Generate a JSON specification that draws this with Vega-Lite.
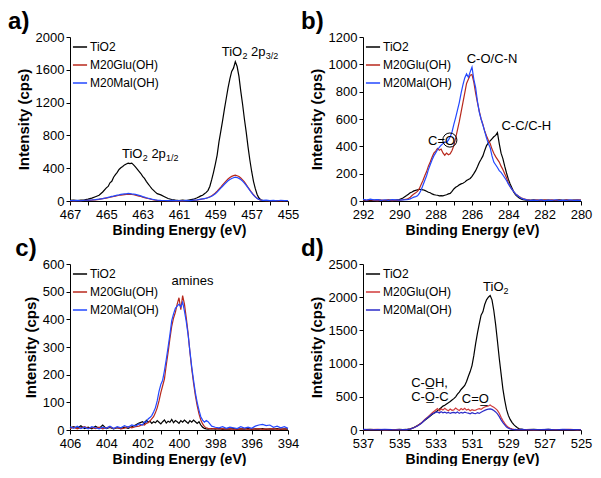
{
"$schema": "https://vega.github.io/schema/vega-lite/v6.json",
"padding": {"left": 8, "top": 10, "right": 4, "bottom": 0},
"config": {
 "font": "Liberation Sans",
 "view": {"stroke": null},
 "axis": {"grid": false, "domainColor": "#000", "tickColor": "#000", "labelColor": "#000", "titleColor": "#000", "labelFontSize": 13, "titleFontSize": 14, "titleFontWeight": "bold", "tickSize": 4, "labelPadding": 2, "labelOverlap": false, "labelFlush": false, "format": "d", "tickCount": 30},
 "axisX": {"titlePadding": 2, "labelPadding": 3},
 "axisY": {"titlePadding": 4, "titleFontSize": 15},
 "legend": {"orient": "top-left", "offset": 2, "padding": 0, "labelFontSize": 12, "symbolType": "stroke", "symbolSize": 200, "symbolStrokeWidth": 1.5, "rowPadding": 4, "labelOffset": 2, "labelColor": "#000"},
 "title": {"fontSize": 24, "fontWeight": "bold", "anchor": "start", "frame": "bounds", "color": "#000", "offset": -3},
 "text": {"font": "Liberation Sans", "fontSize": 13, "color": "#000"}
},
"datasets": {
 "a": [
  {"e":467.0,"T":8,"G":3,"M":6},{"e":466.8,"T":10,"G":2,"M":4},{"e":466.6,"T":6,"G":5,"M":8},{"e":466.4,"T":12,"G":3,"M":3},{"e":466.2,"T":15,"G":6,"M":9},{"e":466.0,"T":22,"G":8,"M":10},{"e":465.8,"T":35,"G":10,"M":12},{"e":465.6,"T":52,"G":14,"M":16},{"e":465.4,"T":70,"G":20,"M":24},{"e":465.2,"T":110,"G":28,"M":30},{"e":465.0,"T":160,"G":36,"M":40},{"e":464.9,"T":178,"G":40,"M":45},{"e":464.8,"T":222,"G":46,"M":50},{"e":464.7,"T":240,"G":50,"M":56},{"e":464.6,"T":290,"G":56,"M":60},{"e":464.5,"T":322,"G":60,"M":66},{"e":464.4,"T":350,"G":64,"M":72},{"e":464.3,"T":385,"G":70,"M":74},{"e":464.2,"T":405,"G":72,"M":80},{"e":464.1,"T":420,"G":75,"M":84},{"e":464.0,"T":440,"G":78,"M":86},{"e":463.9,"T":452,"G":80,"M":88},{"e":463.8,"T":462,"G":82,"M":92},{"e":463.7,"T":455,"G":80,"M":90},{"e":463.6,"T":462,"G":79,"M":86},{"e":463.5,"T":440,"G":76,"M":84},{"e":463.4,"T":415,"G":72,"M":80},{"e":463.3,"T":390,"G":66,"M":74},{"e":463.2,"T":362,"G":60,"M":68},{"e":463.1,"T":335,"G":55,"M":62},{"e":463.0,"T":300,"G":48,"M":54},{"e":462.9,"T":275,"G":42,"M":48},{"e":462.8,"T":240,"G":36,"M":40},{"e":462.7,"T":210,"G":30,"M":34},{"e":462.6,"T":180,"G":24,"M":28},{"e":462.5,"T":150,"G":18,"M":22},{"e":462.4,"T":130,"G":14,"M":18},{"e":462.3,"T":108,"G":10,"M":14},{"e":462.2,"T":90,"G":8,"M":11},{"e":462.0,"T":75,"G":5,"M":8},{"e":461.8,"T":52,"G":4,"M":6},{"e":461.6,"T":30,"G":3,"M":5},{"e":461.4,"T":18,"G":4,"M":7},{"e":461.2,"T":10,"G":2,"M":4},{"e":461.0,"T":6,"G":3,"M":6},{"e":460.8,"T":12,"G":2,"M":3},{"e":460.6,"T":5,"G":4,"M":8},{"e":460.4,"T":14,"G":6,"M":5},{"e":460.2,"T":22,"G":8,"M":10},{"e":460.0,"T":40,"G":12,"M":14},{"e":459.9,"T":50,"G":16,"M":18},{"e":459.8,"T":62,"G":20,"M":22},{"e":459.7,"T":70,"G":24,"M":26},{"e":459.6,"T":88,"G":28,"M":30},{"e":459.5,"T":105,"G":34,"M":34},{"e":459.4,"T":130,"G":42,"M":40},{"e":459.3,"T":180,"G":52,"M":48},{"e":459.2,"T":260,"G":64,"M":58},{"e":459.1,"T":350,"G":80,"M":72},{"e":459.0,"T":450,"G":98,"M":88},{"e":458.9,"T":560,"G":120,"M":108},{"e":458.8,"T":720,"G":146,"M":132},{"e":458.7,"T":850,"G":170,"M":156},{"e":458.6,"T":980,"G":196,"M":180},{"e":458.5,"T":1120,"G":220,"M":204},{"e":458.4,"T":1250,"G":245,"M":226},{"e":458.3,"T":1380,"G":268,"M":246},{"e":458.2,"T":1490,"G":286,"M":262},{"e":458.1,"T":1580,"G":300,"M":274},{"e":458.0,"T":1620,"G":310,"M":284},{"e":457.9,"T":1700,"G":315,"M":290},{"e":457.8,"T":1640,"G":308,"M":286},{"e":457.7,"T":1520,"G":298,"M":276},{"e":457.6,"T":1340,"G":280,"M":262},{"e":457.5,"T":1180,"G":258,"M":242},{"e":457.4,"T":1000,"G":232,"M":218},{"e":457.3,"T":840,"G":200,"M":190},{"e":457.2,"T":660,"G":168,"M":160},{"e":457.1,"T":500,"G":136,"M":128},{"e":457.0,"T":360,"G":104,"M":100},{"e":456.9,"T":240,"G":76,"M":72},{"e":456.8,"T":150,"G":52,"M":50},{"e":456.7,"T":80,"G":32,"M":32},{"e":456.6,"T":36,"G":18,"M":20},{"e":456.5,"T":15,"G":10,"M":12},{"e":456.4,"T":8,"G":6,"M":8},{"e":456.2,"T":5,"G":4,"M":10},{"e":456.0,"T":3,"G":6,"M":4},{"e":455.8,"T":6,"G":3,"M":8},{"e":455.6,"T":4,"G":5,"M":3},{"e":455.4,"T":2,"G":2,"M":9},{"e":455.2,"T":5,"G":4,"M":5},{"e":455.0,"T":3,"G":3,"M":6}
 ],
 "b": [
  {"e":292.0,"T":5,"G":8,"M":12},{"e":291.8,"T":3,"G":4,"M":6},{"e":291.6,"T":6,"G":10,"M":14},{"e":291.4,"T":4,"G":5,"M":8},{"e":291.2,"T":8,"G":3,"M":10},{"e":291.0,"T":5,"G":6,"M":4},{"e":290.8,"T":3,"G":4,"M":9},{"e":290.6,"T":7,"G":8,"M":5},{"e":290.4,"T":4,"G":3,"M":10},{"e":290.2,"T":6,"G":6,"M":8},{"e":290.0,"T":10,"G":5,"M":6},{"e":289.8,"T":22,"G":9,"M":8},{"e":289.6,"T":40,"G":14,"M":10},{"e":289.5,"T":50,"G":18,"M":12},{"e":289.4,"T":60,"G":28,"M":16},{"e":289.3,"T":66,"G":40,"M":22},{"e":289.2,"T":74,"G":52,"M":28},{"e":289.1,"T":78,"G":60,"M":32},{"e":289.0,"T":82,"G":70,"M":38},{"e":288.9,"T":85,"G":90,"M":55},{"e":288.8,"T":84,"G":120,"M":80},{"e":288.7,"T":82,"G":150,"M":115},{"e":288.6,"T":78,"G":185,"M":150},{"e":288.5,"T":72,"G":215,"M":185},{"e":288.4,"T":64,"G":255,"M":230},{"e":288.3,"T":60,"G":285,"M":265},{"e":288.2,"T":52,"G":320,"M":300},{"e":288.1,"T":47,"G":350,"M":330},{"e":288.0,"T":44,"G":365,"M":352},{"e":287.9,"T":42,"G":385,"M":375},{"e":287.8,"T":38,"G":372,"M":392},{"e":287.7,"T":40,"G":380,"M":408},{"e":287.6,"T":38,"G":352,"M":420},{"e":287.5,"T":42,"G":335,"M":432},{"e":287.4,"T":46,"G":350,"M":428},{"e":287.3,"T":52,"G":338,"M":445},{"e":287.2,"T":56,"G":345,"M":470},{"e":287.1,"T":70,"G":370,"M":505},{"e":287.0,"T":88,"G":405,"M":560},{"e":286.9,"T":100,"G":460,"M":610},{"e":286.8,"T":108,"G":520,"M":665},{"e":286.7,"T":118,"G":580,"M":720},{"e":286.6,"T":125,"G":650,"M":790},{"e":286.5,"T":130,"G":720,"M":850},{"e":286.4,"T":138,"G":790,"M":900},{"e":286.3,"T":150,"G":860,"M":930},{"e":286.2,"T":158,"G":890,"M":905},{"e":286.1,"T":165,"G":920,"M":945},{"e":286.0,"T":180,"G":925,"M":980},{"e":285.9,"T":200,"G":870,"M":890},{"e":285.8,"T":222,"G":790,"M":830},{"e":285.7,"T":250,"G":720,"M":730},{"e":285.6,"T":282,"G":658,"M":650},{"e":285.5,"T":305,"G":600,"M":600},{"e":285.4,"T":330,"G":560,"M":555},{"e":285.3,"T":370,"G":510,"M":510},{"e":285.2,"T":405,"G":475,"M":460},{"e":285.1,"T":425,"G":445,"M":420},{"e":285.0,"T":440,"G":420,"M":390},{"e":284.9,"T":455,"G":380,"M":330},{"e":284.8,"T":470,"G":350,"M":285},{"e":284.7,"T":480,"G":325,"M":265},{"e":284.6,"T":500,"G":305,"M":245},{"e":284.5,"T":420,"G":285,"M":222},{"e":284.4,"T":350,"G":255,"M":210},{"e":284.3,"T":310,"G":230,"M":190},{"e":284.2,"T":255,"G":200,"M":170},{"e":284.1,"T":205,"G":170,"M":150},{"e":284.0,"T":160,"G":130,"M":125},{"e":283.9,"T":125,"G":105,"M":105},{"e":283.8,"T":95,"G":85,"M":85},{"e":283.7,"T":65,"G":68,"M":68},{"e":283.6,"T":45,"G":52,"M":52},{"e":283.5,"T":32,"G":42,"M":40},{"e":283.4,"T":22,"G":32,"M":30},{"e":283.3,"T":15,"G":24,"M":22},{"e":283.2,"T":10,"G":18,"M":16},{"e":283.0,"T":6,"G":10,"M":8},{"e":282.8,"T":4,"G":6,"M":4},{"e":282.6,"T":8,"G":4,"M":7},{"e":282.4,"T":3,"G":8,"M":5},{"e":282.2,"T":6,"G":3,"M":8},{"e":282.0,"T":4,"G":9,"M":3},{"e":281.8,"T":7,"G":5,"M":6},{"e":281.6,"T":3,"G":8,"M":4},{"e":281.4,"T":5,"G":4,"M":9},{"e":281.2,"T":8,"G":7,"M":5},{"e":281.0,"T":4,"G":3,"M":6},{"e":280.8,"T":6,"G":8,"M":4},{"e":280.6,"T":3,"G":5,"M":8},{"e":280.4,"T":7,"G":4,"M":5},{"e":280.2,"T":5,"G":9,"M":7},{"e":280.0,"T":4,"G":6,"M":5}
 ],
 "c": [
  {"e":406.0,"T":8,"G":5,"M":12},{"e":405.8,"T":12,"G":10,"M":6},{"e":405.6,"T":6,"G":4,"M":14},{"e":405.4,"T":15,"G":8,"M":5},{"e":405.2,"T":5,"G":12,"M":10},{"e":405.0,"T":10,"G":6,"M":4},{"e":404.8,"T":4,"G":9,"M":12},{"e":404.6,"T":14,"G":5,"M":8},{"e":404.4,"T":6,"G":10,"M":4},{"e":404.2,"T":18,"G":4,"M":10},{"e":404.0,"T":5,"G":8,"M":6},{"e":403.8,"T":9,"G":12,"M":14},{"e":403.6,"T":4,"G":5,"M":5},{"e":403.4,"T":8,"G":9,"M":12},{"e":403.2,"T":5,"G":4,"M":8},{"e":403.0,"T":10,"G":7,"M":16},{"e":402.8,"T":6,"G":12,"M":10},{"e":402.6,"T":12,"G":8,"M":18},{"e":402.4,"T":18,"G":12,"M":14},{"e":402.2,"T":25,"G":14,"M":22},{"e":402.0,"T":30,"G":20,"M":18},{"e":401.9,"T":22,"G":18,"M":30},{"e":401.8,"T":35,"G":24,"M":28},{"e":401.7,"T":28,"G":26,"M":40},{"e":401.6,"T":32,"G":32,"M":45},{"e":401.5,"T":24,"G":40,"M":52},{"e":401.4,"T":30,"G":48,"M":65},{"e":401.3,"T":26,"G":62,"M":80},{"e":401.2,"T":34,"G":80,"M":105},{"e":401.1,"T":28,"G":105,"M":140},{"e":401.0,"T":22,"G":135,"M":165},{"e":400.9,"T":30,"G":160,"M":180},{"e":400.8,"T":36,"G":185,"M":215},{"e":400.7,"T":25,"G":235,"M":255},{"e":400.6,"T":32,"G":280,"M":300},{"e":400.5,"T":28,"G":330,"M":345},{"e":400.4,"T":38,"G":375,"M":395},{"e":400.3,"T":26,"G":405,"M":420},{"e":400.2,"T":34,"G":425,"M":440},{"e":400.1,"T":30,"G":455,"M":448},{"e":400.0,"T":24,"G":478,"M":455},{"e":399.9,"T":34,"G":435,"M":445},{"e":399.8,"T":28,"G":486,"M":462},{"e":399.7,"T":36,"G":455,"M":430},{"e":399.6,"T":30,"G":405,"M":392},{"e":399.5,"T":24,"G":350,"M":345},{"e":399.4,"T":34,"G":282,"M":285},{"e":399.3,"T":28,"G":222,"M":228},{"e":399.2,"T":36,"G":170,"M":180},{"e":399.1,"T":30,"G":125,"M":135},{"e":399.0,"T":24,"G":88,"M":100},{"e":398.9,"T":30,"G":58,"M":72},{"e":398.8,"T":18,"G":36,"M":48},{"e":398.7,"T":10,"G":22,"M":36},{"e":398.6,"T":6,"G":12,"M":28},{"e":398.5,"T":4,"G":8,"M":34},{"e":398.4,"T":3,"G":6,"M":30},{"e":398.2,"T":5,"G":4,"M":14},{"e":398.0,"T":3,"G":6,"M":10},{"e":397.8,"T":5,"G":3,"M":8},{"e":397.6,"T":2,"G":5,"M":12},{"e":397.4,"T":4,"G":3,"M":6},{"e":397.2,"T":3,"G":5,"M":10},{"e":397.0,"T":5,"G":2,"M":8},{"e":396.8,"T":2,"G":4,"M":5},{"e":396.6,"T":4,"G":3,"M":12},{"e":396.4,"T":3,"G":5,"M":7},{"e":396.2,"T":5,"G":2,"M":10},{"e":396.0,"T":2,"G":4,"M":6},{"e":395.8,"T":4,"G":3,"M":14},{"e":395.6,"T":3,"G":5,"M":18},{"e":395.4,"T":5,"G":2,"M":20},{"e":395.2,"T":2,"G":4,"M":16},{"e":395.0,"T":4,"G":3,"M":18},{"e":394.8,"T":3,"G":5,"M":10},{"e":394.6,"T":5,"G":2,"M":14},{"e":394.4,"T":2,"G":4,"M":8},{"e":394.2,"T":4,"G":3,"M":12},{"e":394.0,"T":3,"G":5,"M":6}
 ],
 "d": [
  {"e":537.0,"T":5,"G":4,"M":8},{"e":536.6,"T":8,"G":6,"M":4},{"e":536.2,"T":3,"G":8,"M":6},{"e":535.8,"T":6,"G":3,"M":9},{"e":535.4,"T":4,"G":7,"M":5},{"e":535.0,"T":8,"G":5,"M":4},{"e":534.8,"T":5,"G":4,"M":7},{"e":534.6,"T":8,"G":6,"M":5},{"e":534.4,"T":18,"G":14,"M":14},{"e":534.2,"T":38,"G":34,"M":34},{"e":534.0,"T":68,"G":64,"M":60},{"e":533.8,"T":100,"G":104,"M":98},{"e":533.6,"T":145,"G":158,"M":150},{"e":533.4,"T":188,"G":205,"M":195},{"e":533.2,"T":232,"G":255,"M":240},{"e":533.0,"T":270,"G":300,"M":265},{"e":532.9,"T":292,"G":322,"M":272},{"e":532.8,"T":312,"G":290,"M":255},{"e":532.7,"T":336,"G":320,"M":276},{"e":532.6,"T":360,"G":300,"M":260},{"e":532.5,"T":372,"G":326,"M":270},{"e":532.4,"T":392,"G":305,"M":254},{"e":532.3,"T":410,"G":290,"M":266},{"e":532.2,"T":430,"G":316,"M":250},{"e":532.1,"T":452,"G":296,"M":262},{"e":532.0,"T":472,"G":302,"M":266},{"e":531.9,"T":500,"G":330,"M":254},{"e":531.8,"T":540,"G":310,"M":270},{"e":531.7,"T":570,"G":294,"M":250},{"e":531.6,"T":610,"G":322,"M":266},{"e":531.5,"T":640,"G":304,"M":256},{"e":531.4,"T":670,"G":326,"M":270},{"e":531.3,"T":730,"G":300,"M":260},{"e":531.2,"T":810,"G":312,"M":254},{"e":531.1,"T":880,"G":290,"M":244},{"e":531.0,"T":970,"G":306,"M":260},{"e":530.9,"T":1120,"G":296,"M":250},{"e":530.8,"T":1300,"G":300,"M":246},{"e":530.7,"T":1460,"G":312,"M":262},{"e":530.6,"T":1600,"G":320,"M":250},{"e":530.5,"T":1730,"G":310,"M":266},{"e":530.4,"T":1780,"G":332,"M":282},{"e":530.3,"T":1890,"G":346,"M":296},{"e":530.2,"T":1960,"G":356,"M":306},{"e":530.1,"T":2000,"G":362,"M":314},{"e":530.0,"T":2025,"G":376,"M":318},{"e":529.9,"T":1960,"G":356,"M":310},{"e":529.8,"T":1800,"G":342,"M":292},{"e":529.7,"T":1590,"G":322,"M":272},{"e":529.6,"T":1340,"G":296,"M":242},{"e":529.5,"T":1080,"G":252,"M":202},{"e":529.4,"T":850,"G":192,"M":152},{"e":529.3,"T":620,"G":142,"M":112},{"e":529.2,"T":450,"G":100,"M":76},{"e":529.1,"T":310,"G":66,"M":46},{"e":529.0,"T":220,"G":42,"M":28},{"e":528.9,"T":160,"G":26,"M":16},{"e":528.8,"T":115,"G":16,"M":10},{"e":528.7,"T":80,"G":10,"M":6},{"e":528.6,"T":55,"G":7,"M":8},{"e":528.5,"T":35,"G":5,"M":4},{"e":528.4,"T":18,"G":8,"M":6},{"e":528.2,"T":9,"G":4,"M":8},{"e":528.0,"T":5,"G":6,"M":4},{"e":527.6,"T":8,"G":3,"M":7},{"e":527.2,"T":4,"G":7,"M":5},{"e":526.8,"T":9,"G":4,"M":8},{"e":526.4,"T":3,"G":6,"M":4},{"e":526.0,"T":7,"G":5,"M":9},{"e":525.6,"T":4,"G":8,"M":5},{"e":525.2,"T":6,"G":3,"M":7},{"e":525.0,"T":5,"G":6,"M":4}
 ]
},
"columns": 2,
"spacing": {"row": 0, "column": 2},
"resolve": {"scale": {"color": "independent"}, "legend": {"color": "independent"}},
"concat": [
 {
  "width": 218, "height": 164,
  "title": {"text": "a)", "dx": -8},
  "layer": [
   {"data": {"name": "a"}, "transform": [{"fold": ["T","G","M"], "as": ["s","v"]}],
    "mark": {"type": "line", "strokeWidth": 1.2},
    "encoding": {
     "x": {"field": "e", "type": "quantitative", "title": "Binding Energy (eV)", "scale": {"domain": [455, 467], "reverse": true, "nice": false, "zero": false}, "axis": {"values": [455,456,457,458,459,460,461,462,463,464,465,466,467], "tickCount": 30, "labelOverlap": false, "labelExpr": "datum.value % 2 == 1 ? datum.label : ''"}},
     "y": {"field": "v", "type": "quantitative", "title": "Intensity (cps)", "scale": {"domain": [0, 2000], "nice": false}, "axis": {"values": [0,400,800,1200,1600,2000], "tickCount": 30, "labelOverlap": false}},
     "color": {"field": "s", "type": "nominal", "scale": {"domain": ["T","G","M"], "range": ["#000000","#B8281C","#2348FF"]}, "legend": {"title": null, "labelExpr": "datum.label == 'T' ? 'TiO2' : datum.label == 'G' ? 'M20Glu(OH)' : 'M20Mal(OH)'"}}
    }},
   {"data": {"values": [{"e": 458.65, "v": 1768, "t": "TiO"}, {"e": 457.03, "v": 1768, "t": "2p"}, {"e": 464.14, "v": 528, "t": "TiO"}, {"e": 462.52, "v": 528, "t": "2p"}]},
    "mark": {"type": "text", "align": "left", "baseline": "alphabetic"},
    "encoding": {"x": {"field": "e", "type": "quantitative", "title": "Binding Energy (eV)"}, "y": {"field": "v", "type": "quantitative", "title": "Intensity (cps)"}, "text": {"field": "t"}}},
   {"data": {"values": [{"e": 457.5, "v": 1768, "t": "2"}, {"e": 456.23, "v": 1768, "t": "3/2"}, {"e": 462.99, "v": 528, "t": "2"}, {"e": 461.72, "v": 528, "t": "1/2"}]},
    "mark": {"type": "text", "align": "left", "baseline": "alphabetic", "fontSize": 9, "dy": 3},
    "encoding": {"x": {"field": "e", "type": "quantitative", "title": "Binding Energy (eV)"}, "y": {"field": "v", "type": "quantitative", "title": "Intensity (cps)"}, "text": {"field": "t"}}}
  ]
 },
 {
  "width": 218, "height": 164,
  "title": {"text": "b)", "dx": -8},
  "layer": [
   {"data": {"name": "b"}, "transform": [{"fold": ["T","G","M"], "as": ["s","v"]}],
    "mark": {"type": "line", "strokeWidth": 1.2},
    "encoding": {
     "x": {"field": "e", "type": "quantitative", "title": "Binding Energy (eV)", "scale": {"domain": [280, 292], "reverse": true, "nice": false, "zero": false}, "axis": {"values": [280,281,282,283,284,285,286,287,288,289,290,291,292], "tickCount": 30, "labelOverlap": false, "labelExpr": "datum.value % 2 == 0 ? datum.label : ''"}},
     "y": {"field": "v", "type": "quantitative", "title": "Intensity (cps)", "scale": {"domain": [0, 1200], "nice": false}, "axis": {"values": [0,200,400,600,800,1000,1200], "tickCount": 30, "labelOverlap": false}},
     "color": {"field": "s", "type": "nominal", "scale": {"domain": ["T","G","M"], "range": ["#000000","#B8281C","#2348FF"]}, "legend": {"title": null, "labelExpr": "datum.label == 'T' ? 'TiO2' : datum.label == 'G' ? 'M20Glu(OH)' : 'M20Mal(OH)'"}}
    }},
   {"data": {"values": [{"e": 286.29, "v": 1007, "t": "C-O/C-N"}, {"e": 284.38, "v": 521, "t": "C-C/C-H"}, {"e": 288.42, "v": 412, "t": "C=O"}]},
    "mark": {"type": "text", "align": "left", "baseline": "alphabetic"},
    "encoding": {"x": {"field": "e", "type": "quantitative", "title": "Binding Energy (eV)"}, "y": {"field": "v", "type": "quantitative", "title": "Intensity (cps)"}, "text": {"field": "t"}}},
   {"data": {"values": [{"e": 287.22, "v": 446}]},
    "mark": {"type": "point", "shape": "circle", "filled": false, "size": 200, "stroke": "#000", "strokeWidth": 1, "opacity": 1},
    "encoding": {"x": {"field": "e", "type": "quantitative", "title": "Binding Energy (eV)"}, "y": {"field": "v", "type": "quantitative", "title": "Intensity (cps)"}}}
  ]
 },
 {
  "width": 218, "height": 166,
  "title": {"text": "c)", "dx": -8},
  "layer": [
   {"data": {"name": "c"}, "transform": [{"fold": ["T","G","M"], "as": ["s","v"]}],
    "mark": {"type": "line", "strokeWidth": 1.2},
    "encoding": {
     "x": {"field": "e", "type": "quantitative", "title": "Binding Energy (eV)", "scale": {"domain": [394, 406], "reverse": true, "nice": false, "zero": false}, "axis": {"values": [394,395,396,397,398,399,400,401,402,403,404,405,406], "tickCount": 30, "labelOverlap": false, "labelExpr": "datum.value % 2 == 0 ? datum.label : ''"}},
     "y": {"field": "v", "type": "quantitative", "title": "Intensity (cps)", "scale": {"domain": [0, 600], "nice": false}, "axis": {"values": [0,100,200,300,400,500,600], "tickCount": 30, "labelOverlap": false}},
     "color": {"field": "s", "type": "nominal", "scale": {"domain": ["T","G","M"], "range": ["#000000","#B8281C","#2348FF"]}, "legend": {"title": null, "labelExpr": "datum.label == 'T' ? 'TiO2' : datum.label == 'G' ? 'M20Glu(OH)' : 'M20Mal(OH)'"}}
    }},
   {"data": {"values": [{"e": 400.41, "v": 523, "t": "amines"}]},
    "mark": {"type": "text", "align": "left", "baseline": "alphabetic"},
    "encoding": {"x": {"field": "e", "type": "quantitative", "title": "Binding Energy (eV)"}, "y": {"field": "v", "type": "quantitative", "title": "Intensity (cps)"}, "text": {"field": "t"}}}
  ]
 },
 {
  "width": 218, "height": 166,
  "title": {"text": "d)", "dx": -8},
  "layer": [
   {"data": {"name": "d"}, "transform": [{"fold": ["T","G","M"], "as": ["s","v"]}],
    "mark": {"type": "line", "strokeWidth": 1.2},
    "encoding": {
     "x": {"field": "e", "type": "quantitative", "title": "Binding Energy (eV)", "scale": {"domain": [525, 537], "reverse": true, "nice": false, "zero": false}, "axis": {"values": [525,526,527,528,529,530,531,532,533,534,535,536,537], "tickCount": 30, "labelOverlap": false, "labelExpr": "datum.value % 2 == 1 ? datum.label : ''"}},
     "y": {"field": "v", "type": "quantitative", "title": "Intensity (cps)", "scale": {"domain": [0, 2500], "nice": false}, "axis": {"values": [0,500,1000,1500,2000,2500], "tickCount": 30, "labelOverlap": false}},
     "color": {"field": "s", "type": "nominal", "scale": {"domain": ["T","G","M"], "range": ["#000000","#D03A3A","#2B2BC8"]}, "legend": {"title": null, "labelExpr": "datum.label == 'T' ? 'TiO2' : datum.label == 'G' ? 'M20Glu(OH)' : 'M20Mal(OH)'"}}
    }},
   {"data": {"values": [{"e": 530.39, "v": 2096, "t": "TiO"}, {"e": 534.35, "v": 649, "t": "C-O\u0332H,"}, {"e": 534.35, "v": 439, "t": "C-O\u0332-C"}, {"e": 531.56, "v": 400, "t": "C=O\u0332"}]},
    "mark": {"type": "text", "align": "left", "baseline": "alphabetic"},
    "encoding": {"x": {"field": "e", "type": "quantitative", "title": "Binding Energy (eV)"}, "y": {"field": "v", "type": "quantitative", "title": "Intensity (cps)"}, "text": {"field": "t"}}},
   {"data": {"values": [{"e": 529.26, "v": 2096, "t": "2"}]},
    "mark": {"type": "text", "align": "left", "baseline": "alphabetic", "fontSize": 9, "dy": 3},
    "encoding": {"x": {"field": "e", "type": "quantitative", "title": "Binding Energy (eV)"}, "y": {"field": "v", "type": "quantitative", "title": "Intensity (cps)"}, "text": {"field": "t"}}}
  ]
 }
]
}
